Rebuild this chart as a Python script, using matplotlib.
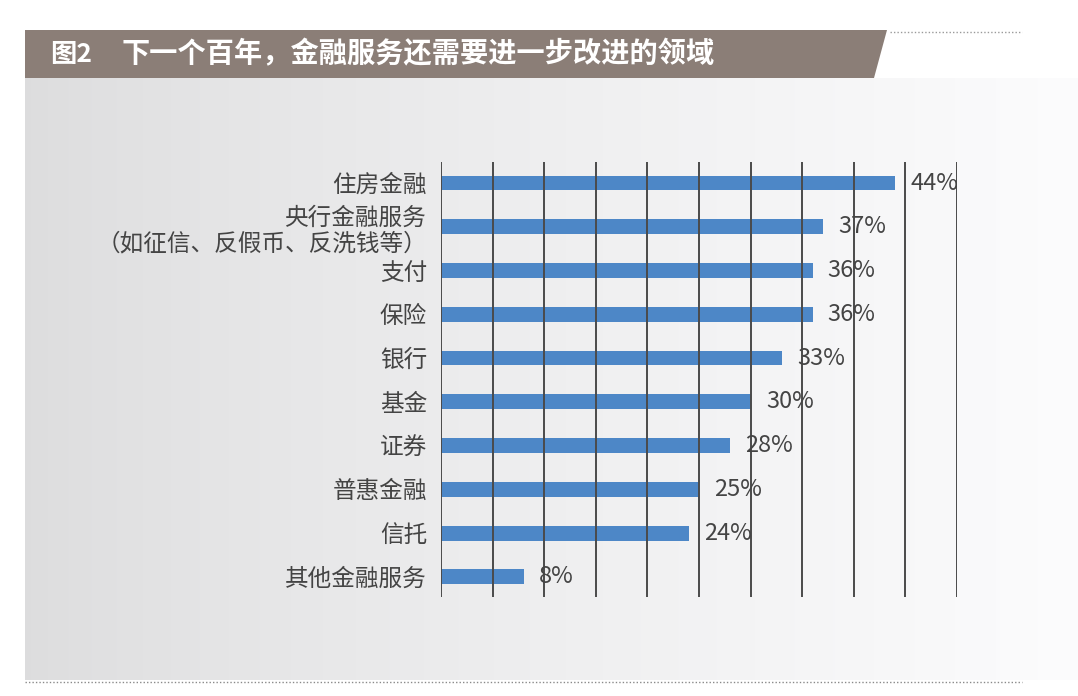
import numpy as np
import matplotlib
matplotlib.use("Agg")
import matplotlib.pyplot as plt
from matplotlib.patches import Polygon
from matplotlib.lines import Line2D

plt.rcParams['font.family'] = ['Noto Sans CJK SC', 'DejaVu Sans']

title_prefix = "图2"
title_text = "下一个百年，金融服务还需要进一步改进的领域"
categories = ["住房金融", "央行金融服务\n（如征信、反假币、反洗钱等）", "支付", "保险", "银行",
              "基金", "证券", "普惠金融", "信托", "其他金融服务"]
values = [44, 37, 36, 36, 33, 30, 28, 25, 24, 8]
grid_ticks = [0, 5, 10, 15, 20, 25, 30, 35, 40, 45, 50]

W, H = 1078, 696
fig = plt.figure(figsize=(W / 100, H / 100), dpi=100)
fig.patch.set_facecolor('white')

def fx(x):
    return x / W

def fy(y):
    return 1 - y / H

# background gradient panel
bg = fig.add_axes([fx(25), fy(680), fx(1078 - 25), (680 - 78) / H])
grad = np.linspace(0, 1, 512) ** 0.8
c0 = np.array([0.865, 0.865, 0.869])
c1 = np.array([0.988, 0.988, 0.992])
img = c0[None, None, :] * (1 - grad)[None, :, None] + c1[None, None, :] * grad[None, :, None]
bg.imshow(img, aspect='auto', extent=[0, 1, 0, 1])
bg.set_axis_off()

# title bar
tb = fig.add_axes([0, 0, 1, 1], facecolor='none')
tb.set_xlim(0, W)
tb.set_ylim(H, 0)
tb.set_axis_off()
tb.add_patch(Polygon([[25, 30], [887, 30], [874, 78], [25, 78]], closed=True,
                     facecolor='#8b7e77', edgecolor='none'))
tb.text(50, 54, title_prefix, color='white', fontsize=19, va='center', ha='left', fontweight='bold')
tb.text(122, 54, title_text, color='white', fontsize=20.3, va='center', ha='left', fontweight='bold')
# dotted lines
tb.add_line(Line2D([890, 1022], [32, 32], color='#9a9a9a', lw=1, linestyle=(0, (1, 1.5))))
tb.add_line(Line2D([25, 1022], [682, 682], color='#8a8a8a', lw=1, linestyle=(0, (1, 1.5))))

# main chart
ax = fig.add_axes([fx(441), fy(597), fx(957 - 441), (597 - 162) / H], facecolor='none')
y = np.arange(len(categories))
ax.barh(y, values, height=0.34, color='#4d87c7', zorder=2)
ax.set_xlim(0, 50)
ax.set_ylim(9.46, -0.48)
for g in grid_ticks:
    ax.axvline(g, color='#4a4a4a', lw=1.4, zorder=3)
for yi, v in zip(y, values):
    ax.annotate(f"{v}%", (v, yi), xytext=(11, 0), textcoords='offset points',
                va='center', ha='left', fontsize=17, color='#444444', fontweight='light')
ax.set_yticks(y)
ax.set_yticklabels(categories, fontsize=17, color='#444444', fontweight='light', linespacing=1.15)
ax.tick_params(axis='y', length=0, pad=10)
ax.set_xticks([])
for s in ax.spines.values():
    s.set_visible(False)

fig.savefig('out.png', dpi=100)
